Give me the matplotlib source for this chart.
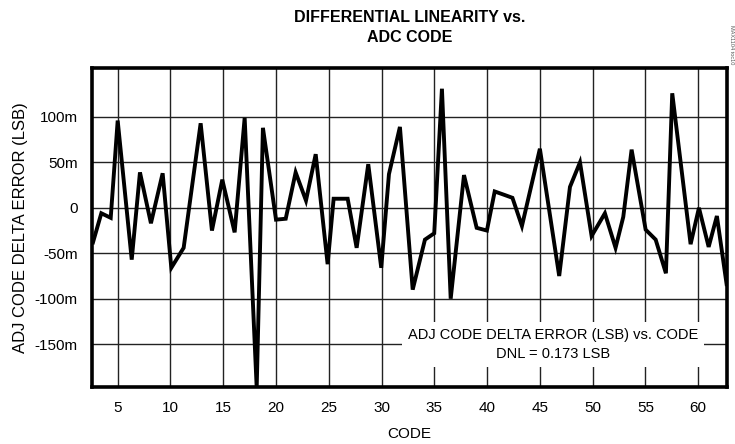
import matplotlib
matplotlib.use("Agg")
import matplotlib.pyplot as plt
from matplotlib.ticker import FixedLocator

plt.rcParams['font.family'] = ['Liberation Sans', 'DejaVu Sans']

# codes (vertices of the trace)
code = [2.66, 3.45, 4.34, 5.0, 6.33, 7.11, 8.15, 9.26, 10.08, 11.25,
        12.86, 13.93, 14.91, 16.08, 17.03, 18.17, 18.76, 20.0, 20.92, 21.86,
        22.84, 23.76, 24.89, 25.46, 26.79, 27.64, 28.74, 29.97, 30.7, 31.74,
        32.95, 34.11, 34.99, 35.72, 36.55, 37.81, 39.01, 39.98, 40.72, 41.69,
        42.4, 43.3, 45.0, 46.83, 47.85, 48.8, 49.9, 51.16, 52.17, 52.9,
        53.69, 55.02, 55.97, 56.94, 57.54, 59.28, 60.07, 60.99, 61.77, 62.69]
# delta error in milli-LSB
err = [-38, -6, -11, 96, -57, 39, -17, 38, -66, -44,
       93, -25, 31, -27, 99, -198, 88, -13, -12, 39,
       8, 59, -62, 10, 10, -44, 48, -66, 37, 89,
       -90, -35, -28, 131, -100, 36, -22, -25, 18, 14,
       11, -20, 65, -75, 23, 50, -31, -6, -44, -10,
       64, -24, -35, -72, 126, -40, 0, -43, -9, -84]

xticks = [5, 10, 15, 20, 25, 30, 35, 40, 45, 50, 55, 60]
yticks = [-150, -100, -50, 0, 50, 100]
ylabels = ['-150m', '-100m', '-50m', '0', '50m', '100m']

fig = plt.figure(figsize=(7.35, 4.44), dpi=100)
ax = fig.add_axes([0.1245, 0.129, 0.8645, 0.717])

ax.plot(code, err, color='black', lw=2.8, solid_joinstyle='miter', zorder=3)

ax.set_xlim(2.52, 62.72)
ax.set_ylim(-196.8, 153.4)
ax.xaxis.set_major_locator(FixedLocator(xticks))
ax.set_yticks(yticks)
ax.set_yticklabels(ylabels)
ax.grid(True, color='#222222', lw=1.0, zorder=1)
ax.tick_params(length=0, labelsize=11, pad=10)
for s in ax.spines.values():
    s.set_linewidth(2.6)
    s.set_zorder(5)

ax.set_xlabel('CODE', fontsize=11, labelpad=9)
ax.set_ylabel('ADJ CODE DELTA ERROR (LSB)', fontsize=12, labelpad=5)

fig.text(0.557, 0.978, 'DIFFERENTIAL LINEARITY vs.\nADC CODE', ha='center', va='top',
         fontsize=11.5, fontweight='bold', linespacing=1.4)

ax.text(0.727, 0.133, 'ADJ CODE DELTA ERROR (LSB) vs. CODE\nDNL = 0.173 LSB',
        transform=ax.transAxes, ha='center', va='center', fontsize=10.5,
        linespacing=1.45, zorder=4,
        bbox=dict(boxstyle='square,pad=0.4', facecolor='white', edgecolor='none'))

fig.text(0.995, 0.9, 'MAX1104 toc10', rotation=270, ha='center', va='center',
         fontsize=4, color='#555555')

fig.savefig('out.png', dpi=100)
